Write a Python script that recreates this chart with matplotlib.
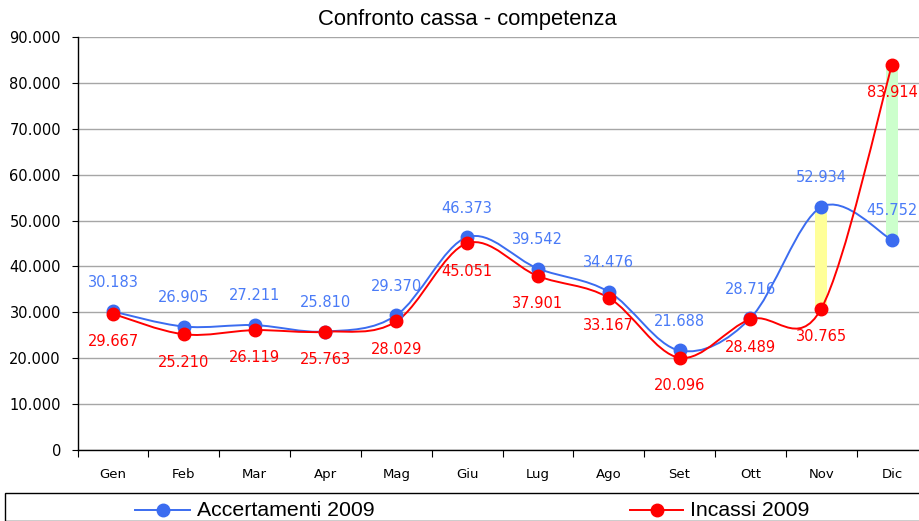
import matplotlib
matplotlib.use("Agg")
import matplotlib.pyplot as plt
from matplotlib.path import Path
from matplotlib.patches import PathPatch, Rectangle
from matplotlib.lines import Line2D
from matplotlib.ticker import FuncFormatter, FixedLocator

months = ["Gen", "Feb", "Mar", "Apr", "Mag", "Giu", "Lug", "Ago", "Set", "Ott", "Nov", "Dic"]
accertamenti = [30183, 26905, 27211, 25810, 29370, 46373, 39542, 34476, 21688, 28716, 52934, 45752]
incassi = [29667, 25210, 26119, 25763, 28029, 45051, 37901, 33167, 20096, 28489, 30765, 83914]
highlight_idx = [10, 11]
highlight_colors = ["#FFFF99", "#CCFFCC"]

BLUE = "#3B6CF0"
BLUE_LABEL = "#4A7BF7"
RED = "#FF0000"

W, H = 919, 521
fig = plt.figure(figsize=(W / 100, H / 100), dpi=100)
left, right, top, bottom = 77.6, 927.4, 37, 450
ax = fig.add_axes([left / W, (H - bottom) / H, (right - left) / W, (bottom - top) / H])

x = list(range(len(months)))


def smooth_path(xs, ys):
    n = len(xs)
    verts = [(xs[0], ys[0])]
    codes = [Path.MOVETO]
    for i in range(n - 1):
        x0, y0 = (xs[i - 1], ys[i - 1]) if i > 0 else (xs[i], ys[i])
        x1, y1 = xs[i], ys[i]
        x2, y2 = xs[i + 1], ys[i + 1]
        x3, y3 = (xs[i + 2], ys[i + 2]) if i + 2 < n else (xs[i + 1], ys[i + 1])
        c1 = (x1 + (x2 - x0) / 6, y1 + (y2 - y0) / 6)
        c2 = (x2 - (x3 - x1) / 6, y2 - (y3 - y1) / 6)
        verts += [c1, c2, (x2, y2)]
        codes += [Path.CURVE4] * 3
    return Path(verts, codes)


# highlight bars (behind lines)
for idx, col in zip(highlight_idx, highlight_colors):
    lo = min(accertamenti[idx], incassi[idx])
    hi = max(accertamenti[idx], incassi[idx])
    ax.bar(idx, hi - lo, bottom=lo, width=0.17, color=col, zorder=2, linewidth=0)

for vals, col in [(accertamenti, BLUE), (incassi, RED)]:
    ax.add_patch(PathPatch(smooth_path(x, vals), facecolor="none", edgecolor=col, lw=1.4, zorder=3))
    ax.plot(x, vals, linestyle="none", marker="o", markersize=9, color=col, zorder=4)

lab_font = dict(family="DejaVu Sans", fontsize=10.5, ha="center", va="center")
for i in x:
    ax.annotate(f"{accertamenti[i]:,}".replace(",", "."), (i, accertamenti[i]),
                xytext=(0, 21), textcoords="offset points", color=BLUE_LABEL, zorder=5, **lab_font)
    ax.annotate(f"{incassi[i]:,}".replace(",", "."), (i, incassi[i]),
                xytext=(0, -20), textcoords="offset points", color=RED, zorder=5, **lab_font)

ax.set_xlim(-0.5, len(months) - 0.5)
ax.set_ylim(0, 90000)
ax.yaxis.set_major_locator(FixedLocator(range(0, 90001, 10000)))
ax.yaxis.set_major_formatter(FuncFormatter(lambda v, p: f"{int(v):,}".replace(",", ".")))
ax.set_xticks(x)
ax.set_xticklabels(months)
ax.set_xticks([i + 0.5 for i in range(-1, len(months))], minor=True)
ax.tick_params(axis="x", which="major", length=0, pad=13, labelsize=9.5)
ax.tick_params(axis="x", which="minor", length=5, width=0.8, direction="out")
ax.tick_params(axis="y", which="major", length=4, width=0.8, pad=8, labelsize=10.5)
for lab in ax.get_yticklabels() + ax.get_xticklabels():
    lab.set_family("DejaVu Sans")
ax.grid(axis="y", color="#A6A6A6", lw=1, zorder=0)
ax.set_axisbelow(True)
for s in ["top", "right"]:
    ax.spines[s].set_visible(False)
ax.spines["left"].set_linewidth(1)
ax.spines["bottom"].set_linewidth(1)

fig.text(467 / W, 1 - 20 / H, "Confronto cassa - competenza", ha="center", va="center",
         family="Liberation Sans", fontsize=15.8)

# legend box
fig.add_artist(Rectangle((5 / W, 0), 1, (H - 493) / H, transform=fig.transFigure,
                         facecolor="white", edgecolor="black", lw=1))
for (x0, x1, tx), lbl, col in [((135, 190, 197), "Accertamenti 2009", BLUE),
                               ((630, 683, 690), "Incassi 2009", RED)]:
    yy = 1 - 510 / H
    fig.add_artist(Line2D([x0 / W, x1 / W], [yy, yy], transform=fig.transFigure, color=col, lw=1.4))
    fig.add_artist(Line2D([(x0 + x1) / 2 / W], [yy], transform=fig.transFigure, color=col,
                          marker="o", markersize=9, linestyle="none"))
    fig.text(tx / W, yy, lbl, ha="left", va="center", family="Liberation Sans", fontsize=15.3)

fig.savefig("out.png", dpi=100)
